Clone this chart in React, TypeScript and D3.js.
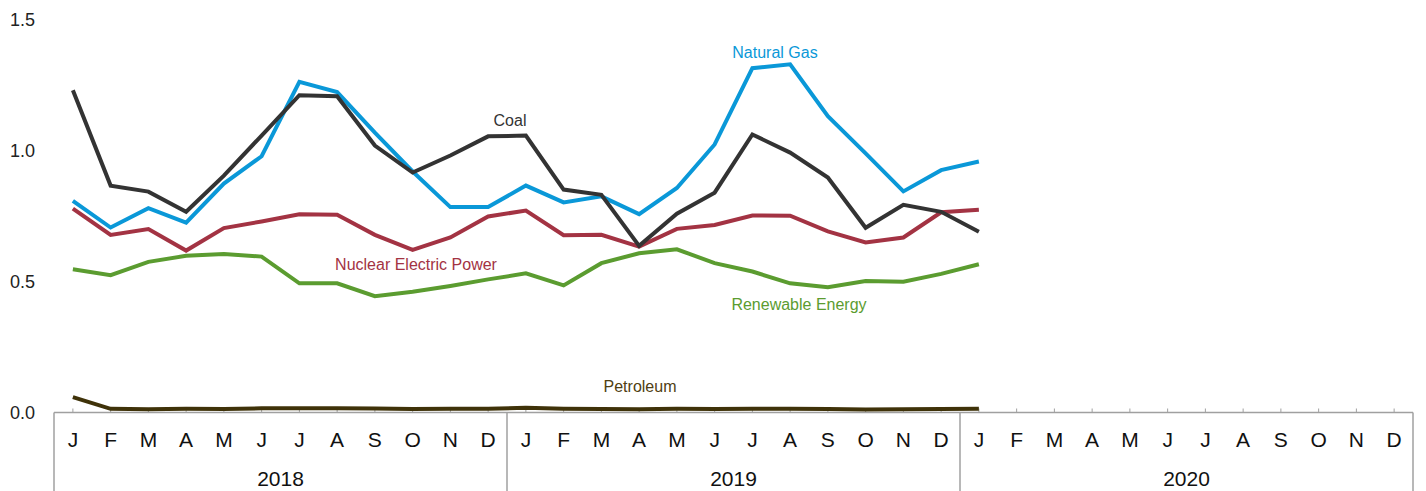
import React from "react";
import * as d3 from "d3";

const months = ["J", "F", "M", "A", "M", "J", "J", "A", "S", "O", "N", "D"];
const years = ["2018", "2019", "2020"];
const yTicks = [0, 0.5, 1.0, 1.5];

const coal = [
    1.23, 0.866, 0.843, 0.766, 0.904, 1.057, 1.211, 1.207, 1.019, 0.916, 0.981, 1.054,
    1.057, 0.851, 0.831, 0.636, 0.759, 0.839, 1.061, 0.992, 0.897, 0.705, 0.793, 0.766,
    0.69,
];
const naturalGas = [
    0.808, 0.706, 0.78, 0.725, 0.874, 0.978, 1.262, 1.223, 1.068, 0.92, 0.784, 0.784,
    0.866, 0.802, 0.825, 0.757, 0.857, 1.023, 1.314, 1.329, 1.131, 0.989, 0.844, 0.925,
    0.958,
];
const nuclear = [
    0.778, 0.678, 0.7, 0.618, 0.704, 0.729, 0.757, 0.755, 0.678, 0.621, 0.668, 0.748,
    0.771, 0.677, 0.678, 0.633, 0.701, 0.716, 0.752, 0.751, 0.691, 0.649, 0.668, 0.764,
    0.774,
];
const renewable = [
    0.547, 0.524, 0.575, 0.598, 0.605, 0.595, 0.493, 0.493, 0.444, 0.461, 0.483, 0.508,
    0.531, 0.485, 0.57, 0.608, 0.623, 0.57, 0.538, 0.493, 0.478, 0.502, 0.499, 0.529,
    0.566,
];
const petroleum = [
    0.059, 0.014, 0.012, 0.014, 0.013, 0.016, 0.016, 0.016, 0.015, 0.013, 0.014, 0.014,
    0.018, 0.014, 0.013, 0.012, 0.014, 0.013, 0.014, 0.014, 0.013, 0.011, 0.012, 0.013,
    0.014,
];

const series = [
    { name: "Petroleum", values: petroleum, color: "#3f3209", labelColor: "#4f4012", lx: 640, ly: 392 },
    { name: "Renewable Energy", values: renewable, color: "#5b9c30", labelColor: "#5b9c30", lx: 799, ly: 310 },
    { name: "Nuclear Electric Power", values: nuclear, color: "#a33343", labelColor: "#a33343", lx: 416, ly: 270 },
    { name: "Natural Gas", values: naturalGas, color: "#0a98d8", labelColor: "#0a98d8", lx: 775, ly: 58 },
    { name: "Coal", values: coal, color: "#333333", labelColor: "#333333", lx: 510, ly: 126 },
];

const width = 1426;
const height = 491;

export default function App() {
    const axisY = 412.5;
    const left = 54;
    const right = 1413;

    const idx = d3.range(years.length * 12);
    const x = d3.scaleBand<number>().domain(idx).range([left, right]);
    const cx = (i: number) => (x(i) ?? 0) + x.bandwidth() / 2;
    const y = d3.scaleLinear().domain([0, 1.5]).range([axisY, 19.5]);

    const line = d3.line<number>()
        .x((_, i) => cx(i))
        .y((d) => y(d));

    const font = "'Liberation Sans', Arial, sans-serif";
    const narrow = "'Liberation Sans Narrow', 'Arial Narrow', 'Liberation Sans', Arial, sans-serif";

    return (
        <svg
            width={width}
            height={height}
            style={{ position: "absolute", left: 0, top: 0, background: "#fff" }}
        >
            {/* y tick labels, no gridlines */}
            {yTicks.map((t) => (
                <text
                    key={t}
                    x={35}
                    y={y(t)}
                    dy="0.35em"
                    textAnchor="end"
                    fontFamily={font}
                    fontSize={18}
                    fill="#222"
                >
                    {d3.format(".1f")(t)}
                </text>
            ))}

            {/* month ticks pointing up */}
            {idx.map((i) => (
                <line
                    key={"t" + i}
                    x1={cx(i)}
                    x2={cx(i)}
                    y1={axisY}
                    y2={axisY - 4}
                    stroke="#a0a0a0"
                    strokeWidth={1}
                />
            ))}

            {/* axis box */}
            <line x1={left} x2={right} y1={axisY} y2={axisY} stroke="#a0a0a0" strokeWidth={1.5} />
            {d3.range(years.length + 1).map((k) => {
                const xx = k < years.length ? (x(k * 12) ?? 0) : right;
                return (
                    <line
                        key={"v" + k}
                        x1={xx}
                        x2={xx}
                        y1={axisY}
                        y2={height}
                        stroke="#a0a0a0"
                        strokeWidth={1.5}
                    />
                );
            })}

            {/* month labels */}
            {idx.map((i) => (
                <text
                    key={"m" + i}
                    x={cx(i)}
                    y={447}
                    textAnchor="middle"
                    fontFamily={narrow}
                    fontSize={21}
                    fill="#111"
                >
                    {months[i % 12]}
                </text>
            ))}

            {/* year labels */}
            {years.map((yr, k) => (
                <text
                    key={yr}
                    x={((x(k * 12) ?? 0) + (x(k * 12 + 11) ?? 0) + x.bandwidth()) / 2}
                    y={486}
                    textAnchor="middle"
                    fontFamily={narrow}
                    fontSize={21}
                    fill="#111"
                >
                    {yr}
                </text>
            ))}

            {/* series */}
            {series.map((s) => (
                <path
                    key={s.name}
                    d={line(s.values) ?? ""}
                    fill="none"
                    stroke={s.color}
                    strokeWidth={4}
                />
            ))}

            {series.map((s) => (
                <text
                    key={"l" + s.name}
                    x={s.lx}
                    y={s.ly}
                    textAnchor="middle"
                    fontFamily={font}
                    fontSize={16}
                    fill={s.labelColor}
                >
                    {s.name}
                </text>
            ))}
        </svg>
    );
}
